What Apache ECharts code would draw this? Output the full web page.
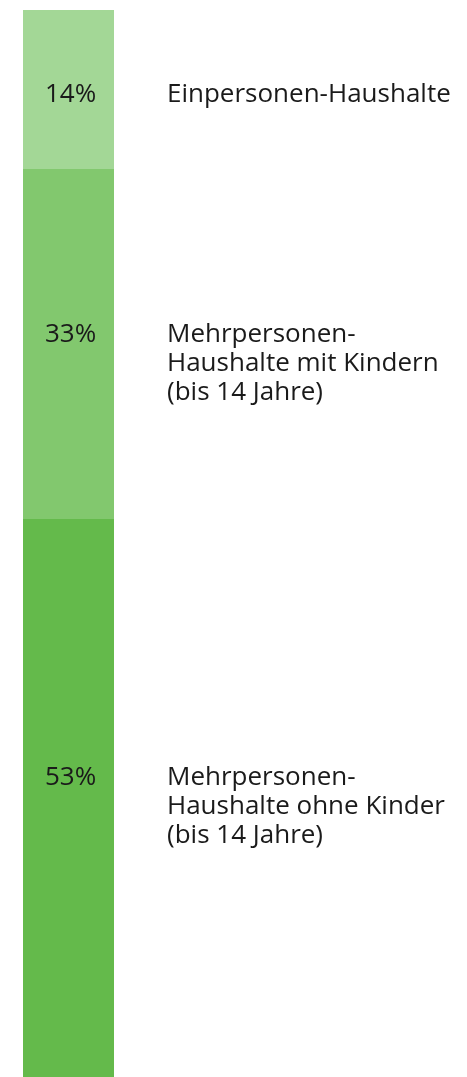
<!DOCTYPE html>
<html>
<head>
<meta charset="utf-8">
<script src="https://cdn.jsdelivr.net/npm/echarts@6/dist/echarts.min.js"></script>
<style>
  html, body { margin: 0; padding: 0; background: #fff; }
  #chart { width: 467px; height: 1077px; }
</style>
</head>
<body>
<div id="chart"></div>
<script>
// segment heights as measured on the bar (top to bottom)
const segmentValues = [14.9, 32.8, 52.3];
const percentLabels = ['14%', '33%', '53%'];
const groupNames = [
  'Einpersonen-Haushalte',
  'Mehrpersonen-\nHaushalte mit Kindern\n(bis 14 Jahre)',
  'Mehrpersonen-\nHaushalte ohne Kinder\n(bis 14 Jahre)'
];
const colors = ['#A3D796', '#82C86E', '#64BA4B'];
const labelTop = [70, 151, 244];

const buildLabel = (i) => {
  const lines = groupNames[i].split('\n');
  return lines.map((line, k) => (k === 0 ? '{a| }{p|' + percentLabels[i] + '}' : '{s| }') + '{n|' + line + '}').join('\n');
};

const txt = { fontSize: 26, lineHeight: 29, color: '#1a1a1a', fontFamily: 'Open Sans' };

const series = segmentValues.map((v, i) => ({
  name: groupNames[i],
  type: 'bar',
  stack: 'total',
  barWidth: '100%',
  data: [v],
  itemStyle: { color: colors[i] },
  emphasis: { disabled: true },
  label: {
    show: true,
    position: [0, labelTop[i]],
    align: 'left',
    verticalAlign: 'top',
    formatter: () => buildLabel(i),
    rich: {
      a: Object.assign({}, txt, { width: 22 }),
      p: Object.assign({}, txt, { width: 122 }),
      s: Object.assign({}, txt, { width: 144 }),
      n: txt
    }
  }
}));

const option = {
  animation: false,
  grid: { left: 23, top: 10, width: 91, bottom: 0 },
  xAxis: { type: 'category', data: ['Haushalte'], show: false },
  yAxis: { type: 'value', min: 0, max: 100, inverse: true, show: false },
  series
};

const myChart = echarts.init(document.getElementById('chart'));
myChart.setOption(option);
</script>
</body>
</html>
